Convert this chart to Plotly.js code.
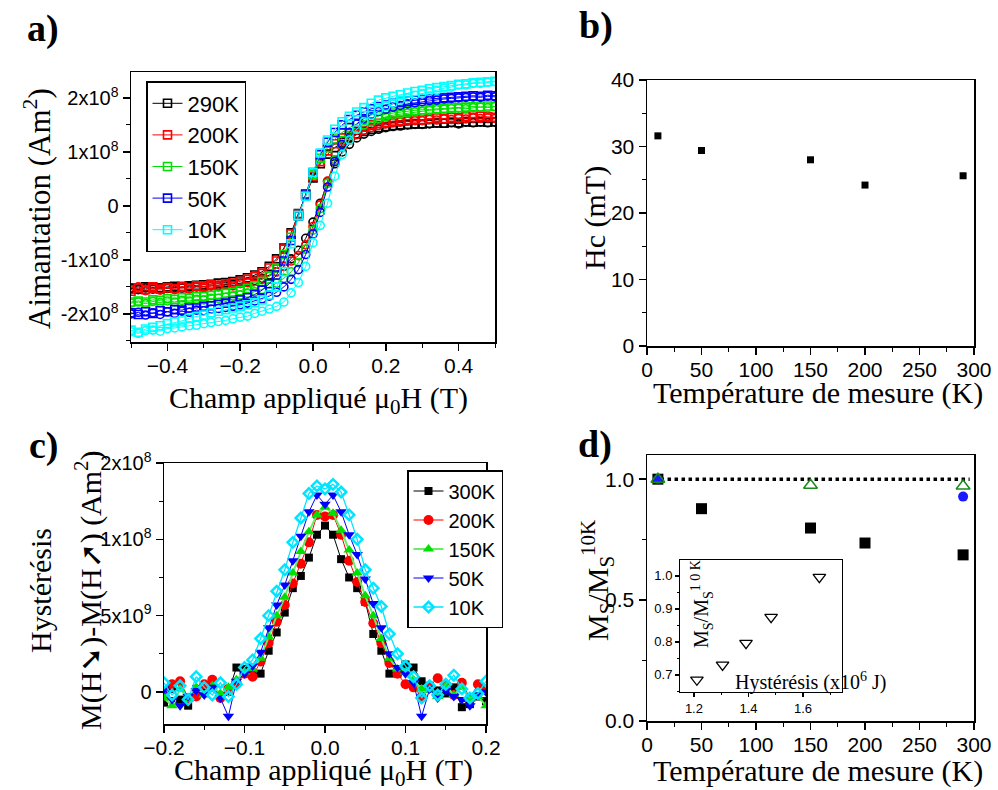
<!DOCTYPE html>
<html><head><meta charset="utf-8">
<script src="https://cdn.plot.ly/plotly-3.0.1.min.js"></script>
<style>html,body{margin:0;padding:0;background:#fff}#chart{width:998px;height:790px}</style>
</head><body><div id="chart"></div>
<script>
// ---------- Panel a : hysteresis loops (x10^8 Am^2) ----------
const fieldA = [-0.50,-0.48,-0.46,-0.44,-0.42,-0.40,-0.38,-0.36,-0.34,-0.32,-0.30,-0.28,-0.26,-0.24,-0.22,-0.20,-0.18,-0.16,-0.14,-0.12,-0.10,-0.08,-0.06,-0.04,-0.02,0.00,0.02,0.04,0.06,0.08,0.10,0.12,0.14,0.16,0.18,0.20,0.22,0.24,0.26,0.28,0.30,0.32,0.34,0.36,0.38,0.40,0.42,0.44,0.46,0.48,0.50];
const loopLabels = ['290K','200K','150K','50K','10K'];
// descending branch (squares)
const m290_down = [-1.52,-1.54,-1.50,-1.51,-1.52,-1.50,-1.49,-1.51,-1.48,-1.47,-1.46,-1.45,-1.43,-1.42,-1.40,-1.37,-1.33,-1.28,-1.22,-1.12,-0.98,-0.78,-0.50,-0.14,0.20,0.52,0.78,0.96,1.08,1.18,1.26,1.33,1.38,1.42,1.45,1.47,1.49,1.50,1.51,1.52,1.52,1.53,1.54,1.53,1.55,1.54,1.56,1.55,1.56,1.55,1.56];
const m200_down = [-1.58,-1.52,-1.55,-1.50,-1.54,-1.51,-1.53,-1.49,-1.52,-1.48,-1.50,-1.46,-1.47,-1.44,-1.43,-1.40,-1.36,-1.31,-1.25,-1.15,-1.02,-0.80,-0.52,-0.15,0.20,0.55,0.82,1.02,1.15,1.26,1.34,1.41,1.46,1.50,1.53,1.55,1.57,1.58,1.60,1.61,1.60,1.62,1.63,1.62,1.64,1.63,1.65,1.64,1.66,1.65,1.64];
const m150_down = [-1.78,-1.76,-1.78,-1.74,-1.75,-1.72,-1.73,-1.70,-1.71,-1.68,-1.68,-1.66,-1.64,-1.62,-1.60,-1.57,-1.53,-1.48,-1.40,-1.30,-1.15,-0.90,-0.58,-0.18,0.22,0.58,0.88,1.08,1.24,1.36,1.45,1.52,1.58,1.63,1.67,1.70,1.72,1.74,1.76,1.77,1.78,1.79,1.80,1.81,1.82,1.82,1.83,1.84,1.83,1.85,1.84];
const m50_down = [-1.98,-2.01,-1.96,-1.99,-1.94,-1.96,-1.92,-1.93,-1.89,-1.89,-1.86,-1.85,-1.82,-1.80,-1.77,-1.74,-1.70,-1.64,-1.56,-1.44,-1.28,-1.02,-0.64,-0.18,0.22,0.62,0.95,1.18,1.36,1.50,1.60,1.68,1.74,1.80,1.84,1.87,1.90,1.92,1.94,1.96,1.97,1.98,1.99,2.00,2.01,2.02,2.03,2.04,2.03,2.05,2.04];
const m10_down = [-2.30,-2.34,-2.28,-2.25,-2.22,-2.18,-2.15,-2.13,-2.08,-2.05,-2.02,-1.98,-1.95,-1.92,-1.89,-1.86,-1.83,-1.79,-1.74,-1.65,-1.50,-1.22,-0.70,-0.18,0.18,0.62,0.98,1.22,1.42,1.56,1.66,1.74,1.82,1.90,1.96,2.00,2.03,2.06,2.09,2.12,2.14,2.17,2.19,2.21,2.23,2.25,2.26,2.28,2.29,2.30,2.31];
// ascending branch (circles)
const m290_up = [-1.53,-1.55,-1.52,-1.54,-1.52,-1.53,-1.51,-1.52,-1.50,-1.50,-1.49,-1.48,-1.47,-1.46,-1.45,-1.43,-1.41,-1.38,-1.34,-1.28,-1.22,-1.12,-0.98,-0.82,-0.60,-0.30,0.05,0.45,0.78,1.00,1.14,1.26,1.33,1.38,1.42,1.45,1.47,1.48,1.50,1.51,1.51,1.52,1.53,1.53,1.54,1.52,1.55,1.54,1.55,1.54,1.55];
const m200_up = [-1.55,-1.50,-1.57,-1.53,-1.56,-1.52,-1.55,-1.51,-1.54,-1.50,-1.52,-1.48,-1.50,-1.47,-1.48,-1.44,-1.42,-1.40,-1.36,-1.30,-1.22,-1.12,-1.02,-0.92,-0.72,-0.38,0.02,0.46,0.85,1.08,1.22,1.32,1.40,1.45,1.49,1.52,1.54,1.55,1.57,1.58,1.58,1.60,1.59,1.61,1.60,1.62,1.61,1.63,1.62,1.63,1.62];
const m150_up = [-1.80,-1.78,-1.81,-1.77,-1.79,-1.76,-1.78,-1.75,-1.76,-1.73,-1.74,-1.71,-1.71,-1.69,-1.67,-1.65,-1.62,-1.59,-1.55,-1.50,-1.43,-1.34,-1.22,-1.05,-0.80,-0.45,-0.05,0.42,0.85,1.12,1.30,1.42,1.50,1.56,1.61,1.65,1.68,1.70,1.72,1.74,1.75,1.77,1.78,1.79,1.80,1.81,1.80,1.82,1.83,1.82,1.84];
const m50_up = [-2.00,-1.97,-2.02,-1.98,-2.01,-1.96,-1.99,-1.95,-1.97,-1.93,-1.94,-1.91,-1.90,-1.88,-1.86,-1.83,-1.80,-1.76,-1.72,-1.67,-1.60,-1.50,-1.36,-1.18,-0.90,-0.52,-0.12,0.35,0.82,1.14,1.36,1.52,1.62,1.69,1.75,1.79,1.83,1.86,1.89,1.91,1.93,1.95,1.96,1.98,1.99,2.00,2.01,2.02,2.01,2.03,2.02];
const m10_up = [-2.33,-2.36,-2.31,-2.30,-2.32,-2.27,-2.26,-2.24,-2.22,-2.21,-2.18,-2.16,-2.14,-2.12,-2.09,-2.06,-2.04,-1.99,-1.95,-1.91,-1.86,-1.78,-1.61,-1.42,-1.12,-0.68,-0.36,0.05,0.55,0.95,1.22,1.42,1.56,1.68,1.77,1.84,1.90,1.96,2.00,2.05,2.08,2.12,2.14,2.18,2.20,2.24,2.24,2.27,2.27,2.29,2.30];
const loopColors = ['#000000','#ff0000','#00e000','#0000ff','#00ffff'];

// ---------- Panel b : coercive field ----------
const tempB = [10, 50, 150, 200, 290];
const hcB = [31.6, 29.4, 28.0, 24.2, 25.6];

// ---------- Panel c : hysteresis difference (x10^8 Am^2) ----------
const fieldC = [-0.20,-0.19,-0.18,-0.17,-0.16,-0.15,-0.14,-0.13,-0.12,-0.11,-0.10,-0.09,-0.08,-0.07,-0.06,-0.05,-0.04,-0.03,-0.02,-0.01,0.00,0.01,0.02,0.03,0.04,0.05,0.06,0.07,0.08,0.09,0.10,0.11,0.12,0.13,0.14,0.15,0.16,0.17,0.18,0.19,0.20];
const diffLabels = ['300K','200K','150K','50K','10K'];
const d300 = [-0.07,0.02,-0.05,-0.09,0.02,0.03,0.05,-0.02,0.00,0.16,0.15,0.12,0.12,0.27,0.39,0.52,0.68,0.76,0.88,1.03,1.09,1.03,0.87,0.75,0.68,0.59,0.38,0.27,0.12,0.12,0.18,0.16,0.07,0.04,0.01,-0.01,0.03,-0.10,-0.08,-0.03,-0.06];
const d200 = [-0.02,0.05,0.07,-0.04,-0.03,0.05,0.08,-0.04,0.02,0.05,0.12,0.10,0.20,0.32,0.46,0.57,0.71,0.84,0.98,1.16,1.15,1.16,1.03,0.86,0.72,0.59,0.45,0.32,0.19,0.12,0.05,0.03,-0.03,0.04,0.09,0.05,-0.02,0.06,-0.04,0.05,0.02];
const d150 = [-0.04,-0.09,0.02,-0.05,0.03,-0.02,0.04,-0.01,0.03,0.08,0.13,0.15,0.22,0.36,0.50,0.62,0.78,0.92,1.05,1.16,1.21,1.17,1.06,0.93,0.78,0.63,0.50,0.35,0.22,0.15,0.13,0.08,0.02,0.01,-0.03,0.04,-0.02,0.03,-0.05,-0.03,-0.09];
const d50 = [0.02,-0.05,-0.09,-0.03,0.01,-0.02,0.03,-0.04,-0.16,0.07,0.12,0.17,0.26,0.42,0.57,0.70,0.86,1.02,1.18,1.29,1.23,1.29,1.18,1.03,0.90,0.74,0.58,0.42,0.25,0.16,0.12,0.06,-0.16,0.02,-0.04,0.01,-0.03,-0.05,-0.09,-0.02,0.00];
const d10 = [0.06,-0.02,0.04,-0.05,0.10,0.03,-0.02,0.06,-0.03,0.05,0.16,0.21,0.35,0.50,0.66,0.80,0.98,1.14,1.30,1.35,1.33,1.36,1.31,1.16,1.00,0.80,0.68,0.56,0.38,0.25,0.17,0.10,-0.04,0.04,-0.02,0.05,0.11,0.02,-0.04,-0.01,0.07];

// ---------- Panel d : normalised saturation ----------
const tempD = [10, 50, 150, 200, 290];
const msRatio = [1.0, 0.878, 0.798, 0.736, 0.687];
const tempGreen = [10, 150, 290];
const msGreen = [1.0, 0.975, 0.972];
const tempBlue = [10, 290];
const msBlue = [1.0, 0.928];
const refX = [6, 296];
const refY = [1.0, 1.0];
// inset
const hystInset = [1.211, 1.305, 1.391, 1.483, 1.660];
const msInset = [0.685, 0.730, 0.796, 0.875, 0.996];

// ---------- helpers ----------
const W = 998, H = 790;
const px = v => v / W;
const py = v => 1 - v / H;
const SANS = 'Liberation Sans, Arial, sans-serif';
const SERIF = 'Liberation Serif, Times New Roman, serif';

function mainAx(o, fs) {
  return Object.assign({
    showgrid: false, zeroline: false, showline: true, mirror: true,
    linecolor: 'black', linewidth: 1.5,
    ticks: 'outside', ticklen: 7, tickwidth: 1.5, tickcolor: 'black',
    tickfont: {family: SANS, size: fs || 20, color: 'black'},
    autorange: false, fixedrange: true
  }, o);
}
function mirAx(o) {
  return Object.assign({
    showgrid: false, zeroline: false, showline: false,
    ticks: 'inside', ticklen: 7, tickwidth: 1.5, tickcolor: 'black',
    showticklabels: false, autorange: false, fixedrange: true
  }, o);
}
function minor(d, dir, len) { return {dtick: d, tick0: 0, ticks: dir, ticklen: len || 4, tickwidth: 1, tickcolor: 'black'}; }

const traces = [];
const downs = [m290_down, m200_down, m150_down, m50_down, m10_down];
const ups = [m290_up, m200_up, m150_up, m50_up, m10_up];
for (let i = 0; i < loopLabels.length; i++) {
  traces.push({x: fieldA, y: downs[i], type: 'scatter', mode: 'lines+markers', name: loopLabels[i],
    legend: 'legend', legendgroup: 'a' + i, xaxis: 'x', yaxis: 'y',
    line: {color: loopColors[i], width: 1},
    marker: {symbol: 'square-open', size: 8, color: loopColors[i], line: {width: 1.6, color: loopColors[i]}}});
  traces.push({x: fieldA, y: ups[i], type: 'scatter', mode: 'lines+markers', name: loopLabels[i], showlegend: false,
    legendgroup: 'a' + i, xaxis: 'x', yaxis: 'y',
    line: {color: loopColors[i], width: 1},
    marker: {symbol: 'circle-open', size: 8, color: loopColors[i], line: {width: 1.6, color: loopColors[i]}}});
}
traces.push({x: tempB, y: hcB, type: 'scatter', mode: 'markers', showlegend: false, xaxis: 'x2', yaxis: 'y2',
  marker: {symbol: 'square', size: 7, color: 'black'}});

const diffs = [d300, d200, d150, d50, d10];
const diffSym = ['square', 'circle', 'triangle-up', 'triangle-down', 'diamond-open'];
const diffCol = ['#000000', '#ff0000', '#00e000', '#0000ff', '#00e5ff'];
const diffLine = ['#000000', '#ff0000', '#66ee66', '#0000ff', '#00e5ff'];
const diffLW = [1, 1, 2, 1, 1.3];
const diffSize = [8, 10, 10, 10, 8];
for (let i = 0; i < diffLabels.length; i++) {
  traces.push({x: fieldC, y: diffs[i], type: 'scatter', mode: 'lines+markers', name: diffLabels[i],
    legend: 'legend2', xaxis: 'x3', yaxis: 'y3',
    line: {color: diffLine[i], width: diffLW[i]},
    marker: {symbol: diffSym[i], size: diffSize[i], color: diffCol[i], line: {width: i === 4 ? 2.5 : 0, color: diffCol[i]}}});
}

traces.push({x: refX, y: refY, type: 'scatter', mode: 'lines', showlegend: false, xaxis: 'x4', yaxis: 'y4',
  line: {color: 'black', width: 3.5, dash: 'dot'}});
traces.push({x: tempD, y: msRatio, type: 'scatter', mode: 'markers', showlegend: false, xaxis: 'x4', yaxis: 'y4',
  marker: {symbol: 'square', size: 11, color: 'black'}});
traces.push({x: tempBlue, y: msBlue, type: 'scatter', mode: 'markers', showlegend: false, xaxis: 'x4', yaxis: 'y4',
  marker: {symbol: 'circle', size: 10, color: '#1a1aff'}});
traces.push({x: tempGreen, y: msGreen, type: 'scatter', mode: 'markers', showlegend: false, xaxis: 'x4', yaxis: 'y4',
  marker: {symbol: 'triangle-up-open', size: 12, color: '#1a8a1a', line: {width: 1.5, color: '#1a8a1a'}}});
traces.push({x: hystInset, y: msInset, type: 'scatter', mode: 'markers', showlegend: false, xaxis: 'x5', yaxis: 'y5',
  marker: {symbol: 'triangle-down-open', size: 11, color: 'black', line: {width: 1.3, color: 'black'}}});

// domains
const dA = {x: [px(131), px(495)], y: [py(342), py(72)]};
const dB = {x: [px(647), px(974)], y: [py(346), py(80)]};
const dC = {x: [px(164), px(486)], y: [py(724), py(463)]};
const dD = {x: [px(647), px(974)], y: [py(721), py(455)]};
const dI = {x: [px(680), px(842)], y: [py(692), py(560)]};

const rA = {x: [-0.5, 0.5], y: [-2.52, 2.48]};
const rB = {x: [0, 300], y: [0, 40]};
const rC = {x: [-0.2, 0.2], y: [-0.21, 1.5]};
const rD = {x: [0, 300], y: [0, 1.1]};
const rI = {x: [1.149, 1.743], y: [0.648, 1.048]};

const yTickA = [-2, -1, 0, 1, 2];
const yTextA = ['-2x10<sup>8</sup>', '-1x10<sup>8</sup>', '0', '1x10<sup>8</sup>', '2x10<sup>8</sup>'];
const yTickC = [0, 0.5, 1, 1.5];
const yTextC = ['0', '5x10<sup>9</sup>', '1x10<sup>8</sup>', '2x10<sup>8</sup>'];

const layout = {
  width: W, height: H, margin: {l: 0, r: 0, t: 0, b: 0},
  paper_bgcolor: 'white', plot_bgcolor: 'white', showlegend: true,
  // panel a
  xaxis: mainAx({domain: dA.x, anchor: 'y', range: rA.x, dtick: 0.2, tick0: 0, tickformat: '.1f', ticklabelstandoff: -3, minor: minor(0.1, 'outside')}, 21),
  yaxis: mainAx({domain: dA.y, anchor: 'x', range: rA.y, tickmode: 'array', tickvals: yTickA, ticktext: yTextA, minor: minor(0.5, 'outside')}, 20),
  xaxis6: mirAx({overlaying: 'x', side: 'top', anchor: 'y', range: rA.x, dtick: 0.2, tick0: 0, minor: minor(0.1, 'inside')}),
  yaxis6: mirAx({overlaying: 'y', side: 'right', anchor: 'x', range: rA.y, dtick: 1, tick0: 0, minor: minor(0.5, 'inside')}),
  // panel b
  xaxis2: mainAx({domain: dB.x, anchor: 'y2', range: rB.x, dtick: 50, tick0: 0, ticklabelstandoff: -3, minor: minor(25, 'outside')}, 21),
  yaxis2: mainAx({domain: dB.y, anchor: 'x2', range: rB.y, dtick: 10, tick0: 0, minor: minor(5, 'outside')}, 21),
  xaxis7: mirAx({overlaying: 'x2', side: 'top', anchor: 'y2', range: rB.x, dtick: 50, tick0: 0, minor: minor(25, 'inside')}),
  yaxis7: mirAx({overlaying: 'y2', side: 'right', anchor: 'x2', range: rB.y, dtick: 10, tick0: 0, minor: minor(5, 'inside')}),
  // panel c
  xaxis3: mainAx({domain: dC.x, anchor: 'y3', range: rC.x, dtick: 0.1, tick0: 0, tickformat: '.1f', ticklabelstandoff: -3, minor: minor(0.05, 'outside')}, 21),
  yaxis3: mainAx({domain: dC.y, anchor: 'x3', range: rC.y, tickmode: 'array', tickvals: yTickC, ticktext: yTextC, minor: minor(0.25, 'outside')}, 20),
  xaxis8: mirAx({overlaying: 'x3', side: 'top', anchor: 'y3', range: rC.x, dtick: 0.1, tick0: 0, minor: minor(0.05, 'inside')}),
  yaxis8: mirAx({overlaying: 'y3', side: 'right', anchor: 'x3', range: rC.y, dtick: 0.5, tick0: 0, minor: minor(0.25, 'inside')}),
  // panel d
  xaxis4: mainAx({domain: dD.x, anchor: 'y4', range: rD.x, dtick: 50, tick0: 0, ticklabelstandoff: -3, minor: minor(25, 'outside')}, 21),
  yaxis4: mainAx({domain: dD.y, anchor: 'x4', range: rD.y, dtick: 0.5, tick0: 0, tickformat: '.1f', minor: minor(0.25, 'outside')}, 21),
  xaxis9: mirAx({overlaying: 'x4', side: 'top', anchor: 'y4', range: rD.x, dtick: 50, tick0: 0, minor: minor(25, 'inside')}),
  yaxis9: mirAx({overlaying: 'y4', side: 'right', anchor: 'x4', range: rD.y, dtick: 0.5, tick0: 0, minor: minor(0.25, 'inside')}),
  // inset
  xaxis5: mainAx({domain: dI.x, anchor: 'y5', range: rI.x, dtick: 0.2, tick0: 0, tickformat: '.1f', ticklen: 4, linewidth: 1, minor: minor(0.1, 'outside', 2)}, 13),
  yaxis5: mainAx({domain: dI.y, anchor: 'x5', range: rI.y, dtick: 0.1, tick0: 0, tickformat: '.1f', ticklen: 4, linewidth: 1, minor: minor(0.05, 'outside', 2)}, 13),
  xaxis10: mirAx({overlaying: 'x5', side: 'top', anchor: 'y5', range: rI.x, dtick: 0.2, tick0: 0, ticklen: 4, tickwidth: 1, minor: minor(0.1, 'inside', 2)}),
  yaxis10: mirAx({overlaying: 'y5', side: 'right', anchor: 'x5', range: rI.y, dtick: 0.1, tick0: 0, ticklen: 4, tickwidth: 1, minor: minor(0.05, 'inside', 2)}),
  legend: {x: px(146), y: py(81), xanchor: 'left', yanchor: 'top', bgcolor: 'white', bordercolor: 'black', borderwidth: 1.5,
    font: {family: SANS, size: 22, color: 'black'}, tracegroupgap: 0},
  legend2: {x: px(407), y: py(470), xanchor: 'left', yanchor: 'top', bgcolor: 'white', bordercolor: 'black', borderwidth: 1.5,
    font: {family: SANS, size: 20, color: 'black'}, tracegroupgap: 0},
  annotations: []
};

function ann(text, x, y, size, opts) {
  layout.annotations.push(Object.assign({text: text, x: px(x), y: py(y), xref: 'paper', yref: 'paper',
    xanchor: 'center', yanchor: 'middle', showarrow: false,
    font: {family: SERIF, size: size, color: 'black'}}, opts || {}));
}
ann('<b>a)</b>', 43, 29, 38);
ann('<b>b)</b>', 596, 26, 38);
ann('<b>c)</b>', 44, 445, 38);
ann('<b>d)</b>', 595, 444, 38);
ann('Champ appliqué μ<sub>0</sub>H (T)', 318, 400, 30);
ann('Aimantation (Am<sup>2</sup>)', 37, 209, 31, {textangle: -90});
ann('Température de mesure (K)', 818, 393, 30);
ann('Hc (mT)', 595, 218, 30, {textangle: -90});
ann('Champ appliqué μ<sub>0</sub>H (T)', 323, 772, 30);
ann('Hystérésis', 40, 591, 30, {textangle: -90});
ann('M(H➘)-M(H➚) (Am<sup>2</sup>)', 88, 590, 30, {textangle: -90});
ann('Température de mesure (K)', 818, 771, 30);
ann('M<sub>S</sub>/M<sub>S</sub><sup>10K</sup>', 597, 581, 30, {textangle: -90});
ann('M<sub>S</sub>/M<sub>S</sub><sup>1 0 K</sup>', 702, 604, 20, {textangle: -90});
ann('Hystérésis (x10<sup>6</sup> J)', 810, 681, 20);

Plotly.newPlot('chart', traces, layout, {staticPlot: true, displayModeBar: false});
</script></body></html>
